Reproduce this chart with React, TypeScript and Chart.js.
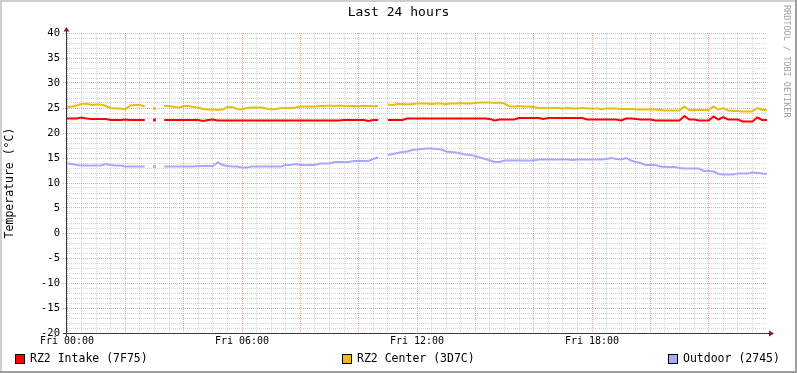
import React, { useEffect, useRef } from 'react';
import { Chart, registerables } from 'chart.js';

Chart.register(...registerables);

// ---- data (10-minute samples from Fri 00:00 to Sat 00:00) ----
const TIMES: number[] = Array.from({ length: 145 }, (_, i) => i * 10); // minutes since Fri 00:00
const X_LABELS = ['Fri 00:00', 'Fri 06:00', 'Fri 12:00', 'Fri 18:00'];
const SERIES_NAMES = ['RZ2 Intake (7F75)', 'RZ2 Center (3D7C)', 'Outdoor (2745)'];

const INTAKE: (number | null)[] = [
  22.9, 22.9, 22.9, 23.1, 22.9, 22.8, 22.8, 22.8, 22.8, 22.6,
  22.6, 22.6, 22.7, 22.6, 22.6, 22.6, 22.6, null, 22.6, null,
  22.6, 22.6, 22.6, 22.6, 22.6, 22.6, 22.6, 22.6, 22.4, 22.6,
  22.7, 22.5, 22.5, 22.5, 22.5, 22.5, 22.5, 22.5, 22.5, 22.5,
  22.5, 22.5, 22.5, 22.5, 22.5, 22.5, 22.5, 22.5, 22.5, 22.5,
  22.5, 22.5, 22.5, 22.5, 22.5, 22.5, 22.5, 22.6, 22.6, 22.6,
  22.6, 22.6, 22.4, 22.6, 22.6, null, 22.6, 22.6, 22.6, 22.6,
  22.9, 22.9, 22.9, 22.9, 22.9, 22.9, 22.9, 22.9, 22.9, 22.9,
  22.9, 22.9, 22.9, 22.9, 22.9, 22.9, 22.9, 22.8, 22.5, 22.7,
  22.7, 22.7, 22.7, 23.0, 23.0, 23.0, 23.0, 23.0, 22.8, 23.0,
  23.0, 23.0, 23.0, 23.0, 23.0, 23.0, 23.0, 22.7, 22.7, 22.7,
  22.7, 22.7, 22.7, 22.7, 22.5, 22.9, 22.9, 22.8, 22.7, 22.7,
  22.7, 22.5, 22.5, 22.5, 22.5, 22.5, 22.5, 23.4, 22.7, 22.7,
  22.5, 22.5, 22.5, 23.3, 22.7, 23.2, 22.7, 22.7, 22.7, 22.3,
  22.3, 22.3, 23.1, 22.6, 22.6,
];

const CENTER: (number | null)[] = [
  25.2, 25.3, 25.5, 25.8, 25.9, 25.6, 25.7, 25.7, 25.4, 25.0,
  24.9, 24.9, 24.7, 25.5, 25.6, 25.6, 25.3, null, 24.9, null,
  25.4, 25.4, 25.2, 25.1, 25.4, 25.4, 25.2, 25.1, 24.8, 24.7,
  24.7, 24.6, 24.7, 25.2, 25.2, 24.8, 24.7, 25.0, 25.1, 25.1,
  25.1, 24.9, 24.7, 24.8, 25.0, 25.0, 25.0, 25.1, 25.3, 25.3,
  25.3, 25.3, 25.4, 25.4, 25.5, 25.4, 25.5, 25.4, 25.4, 25.4,
  25.4, 25.4, 25.4, 25.4, 25.4, null, 25.7, 25.6, 25.8, 25.8,
  25.7, 25.8, 25.9, 25.9, 25.9, 25.8, 25.9, 25.9, 25.8, 25.9,
  25.9, 26.0, 25.9, 25.9, 26.0, 26.1, 26.1, 26.1, 26.0, 26.1,
  25.9, 25.3, 25.3, 25.4, 25.3, 25.3, 25.2, 25.0, 25.0, 25.0,
  25.0, 25.0, 24.9, 25.0, 24.9, 24.9, 25.0, 24.9, 24.9, 24.9,
  24.8, 24.9, 24.9, 24.9, 24.8, 24.8, 24.8, 24.7, 24.7, 24.7,
  24.7, 24.7, 24.6, 24.5, 24.5, 24.5, 24.5, 25.3, 24.6, 24.6,
  24.6, 24.6, 24.6, 25.3, 24.7, 25.0, 24.5, 24.4, 24.4, 24.3,
  24.3, 24.3, 25.0, 24.6, 24.6,
];

const OUTDOOR: (number | null)[] = [
  13.9, 13.8, 13.6, 13.5, 13.5, 13.5, 13.5, 13.5, 13.8, 13.6,
  13.5, 13.5, 13.3, 13.3, 13.3, 13.3, 13.3, null, 13.3, null,
  13.3, 13.3, 13.3, 13.3, 13.3, 13.3, 13.3, 13.4, 13.4, 13.4,
  13.4, 14.1, 13.6, 13.4, 13.3, 13.3, 13.1, 13.1, 13.3, 13.3,
  13.3, 13.3, 13.3, 13.3, 13.3, 13.6, 13.6, 13.8, 13.6, 13.6,
  13.6, 13.6, 13.9, 13.9, 13.9, 14.2, 14.2, 14.2, 14.2, 14.4,
  14.4, 14.4, 14.4, 14.8, 15.1, null, 15.6, 15.8, 16.0, 16.2,
  16.3, 16.6, 16.7, 16.8, 16.9, 16.9, 16.8, 16.7, 16.3, 16.2,
  16.1, 15.9, 15.7, 15.6, 15.4, 15.1, 14.8, 14.5, 14.2, 14.2,
  14.5, 14.5, 14.5, 14.5, 14.5, 14.5, 14.5, 14.7, 14.7, 14.7,
  14.7, 14.7, 14.7, 14.7, 14.6, 14.7, 14.7, 14.7, 14.7, 14.7,
  14.7, 14.8, 15.0, 14.8, 14.7, 15.0, 14.5, 14.2, 14.0, 13.6,
  13.6, 13.6, 13.3, 13.2, 13.2, 13.2, 13.0, 12.9, 12.9, 12.9,
  12.9, 12.4, 12.4, 12.3, 11.8, 11.7, 11.7, 11.7, 11.9, 11.9,
  11.9, 12.1, 12.0, 11.9, 11.8,
];

// ---- styles ----
const FONT = "'DejaVu Sans Mono', monospace";
const COLORS = ['#FF0000', '#EABD0E', '#A8A8FF'];
const MAJOR = 'rgba(222,80,80,0.5)';
const MINOR = 'rgba(143,143,143,0.38)';
const LEGEND_X = [15, 342, 668];

const isolatedRadius = (ctx: any) => {
  const d = ctx.dataset.data as (number | null)[];
  const i = ctx.dataIndex;
  if (d[i] == null) return 0;
  const prevNull = i === 0 || d[i - 1] == null;
  const nextNull = i === d.length - 1 || d[i + 1] == null;
  return prevNull && nextNull && i > 0 && i < d.length - 1 ? 2 : 0;
};

const rrdPlugin = {
  id: 'rrdFrame',
  beforeDraw(chart: any) {
    const { ctx, width, height } = chart;
    ctx.save();
    ctx.fillStyle = '#FFFFFF';
    ctx.fillRect(0, 0, width, height);
    ctx.restore();
  },
  afterDraw(chart: any) {
    const { ctx, width, height, chartArea } = chart;
    const { left, right, top, bottom } = chartArea;
    ctx.save();
    // frame
    ctx.fillStyle = '#CFCFCF';
    ctx.fillRect(0, 0, width, 2);
    ctx.fillRect(0, 0, 2, height);
    ctx.fillStyle = '#9E9E9E';
    ctx.fillRect(0, height - 2, width, 2);
    ctx.fillRect(width - 2, 0, 2, height);

    // axes
    ctx.strokeStyle = '#3A3A3A';
    ctx.lineWidth = 1;
    ctx.beginPath();
    ctx.moveTo(left - 4, bottom + 0.5);
    ctx.lineTo(right + 3, bottom + 0.5);
    ctx.moveTo(left - 0.5, bottom + 4);
    ctx.lineTo(left - 0.5, top - 3);
    ctx.stroke();
    ctx.fillStyle = '#7F1F1F';
    ctx.beginPath();
    ctx.moveTo(left - 0.5, top - 6);
    ctx.lineTo(left - 3.5, top - 1.5);
    ctx.lineTo(left + 2.5, top - 1.5);
    ctx.closePath();
    ctx.fill();
    ctx.beginPath();
    ctx.moveTo(right + 7, bottom + 0.5);
    ctx.lineTo(right + 2, bottom - 2.5);
    ctx.lineTo(right + 2, bottom + 3.5);
    ctx.closePath();
    ctx.fill();

    // title
    ctx.fillStyle = '#000000';
    ctx.font = `13px ${FONT}`;
    ctx.textAlign = 'center';
    ctx.textBaseline = 'middle';
    ctx.fillText('Last 24 hours', width / 2, 13);

    // y title
    ctx.save();
    ctx.translate(10, (top + bottom) / 2);
    ctx.rotate(-Math.PI / 2);
    ctx.font = `11.5px ${FONT}`;
    ctx.fillText('Temperature (°C)', 0, 0);
    ctx.restore();

    // watermark
    ctx.save();
    ctx.translate(786, 5);
    ctx.rotate(Math.PI / 2);
    ctx.font = `8.5px ${FONT}`;
    ctx.fillStyle = '#A0A0A0';
    ctx.textAlign = 'left';
    ctx.textBaseline = 'middle';
    ctx.fillText('RRDTOOL / TOBI OETIKER', 0, 0);
    ctx.restore();

    // legend
    ctx.font = `11.5px ${FONT}`;
    ctx.textAlign = 'left';
    ctx.textBaseline = 'middle';
    chart.data.datasets.forEach((ds: any, i: number) => {
      const x = LEGEND_X[i];
      ctx.fillStyle = ds.borderColor;
      ctx.fillRect(x, 354, 9, 9);
      ctx.strokeStyle = '#000000';
      ctx.lineWidth = 1;
      ctx.strokeRect(x + 0.5, 354.5, 9, 9);
      ctx.fillStyle = '#000000';
      ctx.fillText(ds.label, x + 15, 359);
    });
    ctx.restore();
  },
};

export default function App() {
  const ref = useRef<HTMLCanvasElement | null>(null);

  useEffect(() => {
    document.body.style.margin = '0';
    const canvas = ref.current;
    if (!canvas) return;
    const mk = (label: string, data: (number | null)[], color: string) => ({
      label,
      data,
      borderColor: color,
      backgroundColor: color,
      borderWidth: 2,
      tension: 0,
      spanGaps: false,
      pointRadius: isolatedRadius,
      pointHoverRadius: 0,
      pointStyle: 'rect',
      pointBorderWidth: 0,
      pointBackgroundColor: color,
    });
    const chart = new Chart(canvas, {
      type: 'line',
      data: {
        labels: TIMES,
        datasets: [
          mk(SERIES_NAMES[0], INTAKE, COLORS[0]),
          mk(SERIES_NAMES[1], CENTER, COLORS[1]),
          mk(SERIES_NAMES[2], OUTDOOR, COLORS[2]),
        ],
      },
      options: {
        animation: false,
        responsive: false,
        devicePixelRatio: 1,
        events: [],
        layout: { padding: { top: 33, right: 30, left: 0, bottom: 0 } },
        plugins: { legend: { display: false }, tooltip: { enabled: false }, title: { display: false } },
        scales: {
          x: {
            type: 'linear',
            min: 0,
            max: 1440,
            afterFit: (s: any) => { s.height = 40; },
            grid: {
              drawTicks: false,
              lineWidth: 1,
              color: (c: any) => {
                const v = c.tick ? c.tick.value : 0;
                if (v >= 1440) return 'rgba(0,0,0,0)';
                return v % 120 === 0 ? MAJOR : MINOR;
              },
            },
            border: { display: false, dash: [1, 1] },
            ticks: {
              stepSize: 30,
              autoSkip: false,
              maxRotation: 0,
              maxTicksLimit: 1000,
              padding: 2,
              color: '#000000',
              font: { family: FONT, size: 10 },
              callback: (v: any) => (Number(v) % 360 === 0 && Number(v) < 1440 ? X_LABELS[Number(v) / 360] : ''),
            },
          },
          y: {
            type: 'linear',
            min: -20,
            max: 40,
            afterFit: (s: any) => { s.width = 67; },
            grid: {
              lineWidth: 1,
              tickLength: 4,
              tickBorderDash: [1, 1],
              color: (c: any) => {
                const v = c.tick ? c.tick.value : 0;
                return v % 5 === 0 ? MAJOR : MINOR;
              },
              tickColor: (c: any) => {
                const v = c.tick ? c.tick.value : 0;
                return v % 5 === 0 ? MAJOR : 'rgba(0,0,0,0)';
              },
            },
            border: { display: false, dash: [1, 1] },
            ticks: {
              stepSize: 1,
              autoSkip: false,
              maxTicksLimit: 1000,
              padding: 3,
              color: '#000000',
              font: { family: FONT, size: 10.5 },
              callback: (v: any) => (Number(v) % 5 === 0 ? String(v) : ''),
            },
          },
        },
      },
      plugins: [rrdPlugin],
    } as any);
    return () => chart.destroy();
  }, []);

  return (
    <div style={{ width: 797, height: 373 }}>
      <canvas ref={ref} width={797} height={373} style={{ display: 'block' }} />
    </div>
  );
}
